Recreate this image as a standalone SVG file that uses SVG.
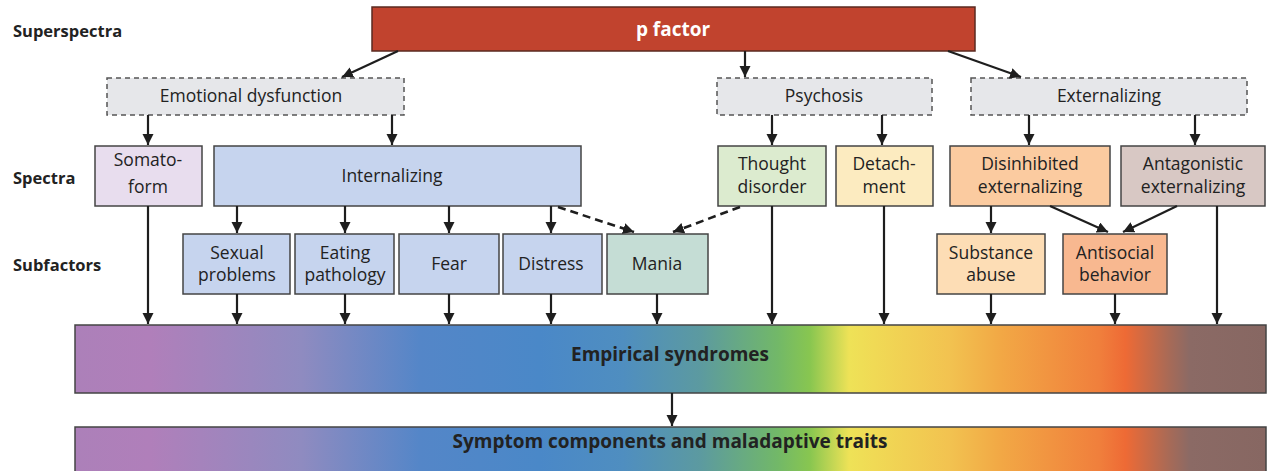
<svg xmlns="http://www.w3.org/2000/svg" width="1270" height="471" viewBox="0 0 1270 471">
<defs>
<marker id="ah" markerUnits="userSpaceOnUse" markerWidth="12" markerHeight="12" refX="11" refY="5.5" orient="auto">
<path d="M0,0 L11,5.5 L0,11 z" fill="#1e1e1e"/>
</marker>
<linearGradient id="spec" x1="75" y1="0" x2="1266" y2="0" gradientUnits="userSpaceOnUse">
<stop offset="0" stop-color="#AC80B9"/>
<stop offset="0.063" stop-color="#B07FBA"/>
<stop offset="0.19" stop-color="#8F8BC0"/>
<stop offset="0.29" stop-color="#5486C8"/>
<stop offset="0.39" stop-color="#4A88C8"/>
<stop offset="0.46" stop-color="#4F8EC0"/>
<stop offset="0.525" stop-color="#5C9AA0"/>
<stop offset="0.59" stop-color="#72B868"/>
<stop offset="0.617" stop-color="#88C650"/>
<stop offset="0.65" stop-color="#EEE257"/>
<stop offset="0.67" stop-color="#F0DA55"/>
<stop offset="0.735" stop-color="#F2C250"/>
<stop offset="0.777" stop-color="#F2A845"/>
<stop offset="0.86" stop-color="#F07F3C"/>
<stop offset="0.882" stop-color="#EE6A35"/>
<stop offset="0.92" stop-color="#A56A58"/>
<stop offset="0.936" stop-color="#8B6A65"/>
<stop offset="1" stop-color="#876762"/>
</linearGradient>
</defs>
<style>
text{font-family:"Open Sans","Liberation Sans",sans-serif;fill:#222;}
.lbl{font-size:17.5px;text-anchor:middle;}
.side{font-size:16.5px;font-weight:bold;}
.big{font-size:19px;font-weight:bold;text-anchor:middle;}
.box{stroke:#444;stroke-width:1.5;}
.dash{fill:#E6E7EA;stroke:#555;stroke-width:1.5;stroke-dasharray:5,4;}
.ln{stroke:#1e1e1e;stroke-width:2.2;fill:none;marker-end:url(#ah);}
.dl{stroke:#1e1e1e;stroke-width:2.6;fill:none;stroke-dasharray:8,5;marker-end:url(#ah);}
.bar{fill:url(#spec);stroke:#444;stroke-width:1.5;}
</style>

<g id="row-labels">
<text class="side" x="13" y="37">Superspectra</text>
<text class="side" x="13" y="184">Spectra</text>
<text class="side" x="13" y="271">Subfactors</text>
</g>

<g id="p-factor">
<rect x="372" y="7" width="603" height="44" fill="#C1432E" stroke="#5a2a20" stroke-width="1.5"/>
<text class="big" x="673" y="36" style="fill:#fff">p factor</text>
</g>

<g id="emotional-dysfunction">
<rect class="dash" x="107" y="78" width="297" height="37"/>
<text class="lbl" x="251" y="102">Emotional dysfunction</text>
</g>
<g id="psychosis">
<rect class="dash" x="717" y="78" width="215" height="37"/>
<text class="lbl" x="824" y="102">Psychosis</text>
</g>
<g id="externalizing">
<rect class="dash" x="971" y="78" width="276" height="37"/>
<text class="lbl" x="1109" y="102">Externalizing</text>
</g>

<g id="somatoform">
<rect class="box" x="95" y="146" width="107" height="60" fill="#E8DDEE"/>
<text class="lbl" x="148" y="166">Somato-</text>
<text class="lbl" x="148" y="193">form</text>
</g>
<g id="internalizing">
<rect class="box" x="214" y="146" width="367" height="60" fill="#C6D4EE"/>
<text class="lbl" x="392" y="182">Internalizing</text>
</g>
<g id="thought-disorder">
<rect class="box" x="718" y="146" width="108" height="60" fill="#DCEBCF"/>
<text class="lbl" x="772" y="170">Thought</text>
<text class="lbl" x="772" y="193">disorder</text>
</g>
<g id="detachment">
<rect class="box" x="836" y="146" width="97" height="60" fill="#FCEBC0"/>
<text class="lbl" x="884" y="170">Detach-</text>
<text class="lbl" x="884" y="193">ment</text>
</g>
<g id="disinhibited-externalizing">
<rect class="box" x="950" y="146" width="160" height="60" fill="#FBCBA0"/>
<text class="lbl" x="1030" y="170">Disinhibited</text>
<text class="lbl" x="1030" y="193">externalizing</text>
</g>
<g id="antagonistic-externalizing">
<rect class="box" x="1121" y="146" width="144" height="60" fill="#D8C8C4"/>
<text class="lbl" x="1193" y="170">Antagonistic</text>
<text class="lbl" x="1193" y="193">externalizing</text>
</g>

<g id="sexual-problems">
<rect class="box" x="183" y="234" width="107" height="60" fill="#C6D4EE"/>
<text class="lbl" x="237" y="259">Sexual</text>
<text class="lbl" x="237" y="281">problems</text>
</g>
<g id="eating-pathology">
<rect class="box" x="295" y="234" width="99" height="60" fill="#C6D4EE"/>
<text class="lbl" x="345" y="259">Eating</text>
<text class="lbl" x="345" y="281">pathology</text>
</g>
<g id="fear">
<rect class="box" x="399" y="234" width="100" height="60" fill="#C6D4EE"/>
<text class="lbl" x="449" y="270">Fear</text>
</g>
<g id="distress">
<rect class="box" x="503" y="234" width="99" height="60" fill="#C6D4EE"/>
<text class="lbl" x="551" y="270">Distress</text>
</g>
<g id="mania">
<rect class="box" x="607" y="234" width="101" height="60" fill="#C5DDD5"/>
<text class="lbl" x="657" y="270">Mania</text>
</g>
<g id="substance-abuse">
<rect class="box" x="937" y="234" width="108" height="60" fill="#FDDDB5"/>
<text class="lbl" x="991" y="259">Substance</text>
<text class="lbl" x="991" y="281">abuse</text>
</g>
<g id="antisocial-behavior">
<rect class="box" x="1063" y="234" width="104" height="60" fill="#F8B890"/>
<text class="lbl" x="1115" y="259">Antisocial</text>
<text class="lbl" x="1115" y="281">behavior</text>
</g>

<g id="empirical-syndromes">
<rect class="bar" x="75" y="325" width="1191" height="68"/>
<text class="big" x="670" y="361">Empirical syndromes</text>
</g>
<g id="symptom-components">
<rect class="bar" x="75" y="427" width="1191" height="50"/>
<text class="big" x="670" y="448">Symptom components and maladaptive traits</text>
</g>

<g id="connectors">
<line class="ln" x1="398" y1="51" x2="342" y2="77"/>
<line class="ln" x1="745" y1="51" x2="745" y2="77"/>
<line class="ln" x1="948" y1="51" x2="1021" y2="77"/>
<line class="ln" x1="148" y1="115" x2="148" y2="145"/>
<line class="ln" x1="392" y1="115" x2="392" y2="145"/>
<line class="ln" x1="772" y1="115" x2="772" y2="145"/>
<line class="ln" x1="882" y1="115" x2="882" y2="145"/>
<line class="ln" x1="1029" y1="115" x2="1029" y2="145"/>
<line class="ln" x1="1195" y1="115" x2="1195" y2="145"/>
<line class="ln" x1="237" y1="206" x2="237" y2="233"/>
<line class="ln" x1="345" y1="206" x2="345" y2="233"/>
<line class="ln" x1="449" y1="206" x2="449" y2="233"/>
<line class="ln" x1="551" y1="206" x2="551" y2="233"/>
<line class="dl" x1="558" y1="207" x2="634" y2="232"/>
<line class="dl" x1="740" y1="207" x2="673" y2="232"/>
<line class="ln" x1="991" y1="206" x2="991" y2="233"/>
<line class="ln" x1="1050" y1="206" x2="1108" y2="232"/>
<line class="ln" x1="1177" y1="206" x2="1123" y2="232"/>
<line class="ln" x1="148" y1="206" x2="148" y2="324"/>
<line class="ln" x1="237" y1="294" x2="237" y2="324"/>
<line class="ln" x1="345" y1="294" x2="345" y2="324"/>
<line class="ln" x1="449" y1="294" x2="449" y2="324"/>
<line class="ln" x1="551" y1="294" x2="551" y2="324"/>
<line class="ln" x1="657" y1="294" x2="657" y2="324"/>
<line class="ln" x1="772" y1="206" x2="772" y2="324"/>
<line class="ln" x1="884" y1="206" x2="884" y2="324"/>
<line class="ln" x1="991" y1="294" x2="991" y2="324"/>
<line class="ln" x1="1115" y1="294" x2="1115" y2="324"/>
<line class="ln" x1="1217" y1="206" x2="1217" y2="324"/>
<line class="ln" x1="672" y1="393" x2="672" y2="426"/>
</g>
</svg>
